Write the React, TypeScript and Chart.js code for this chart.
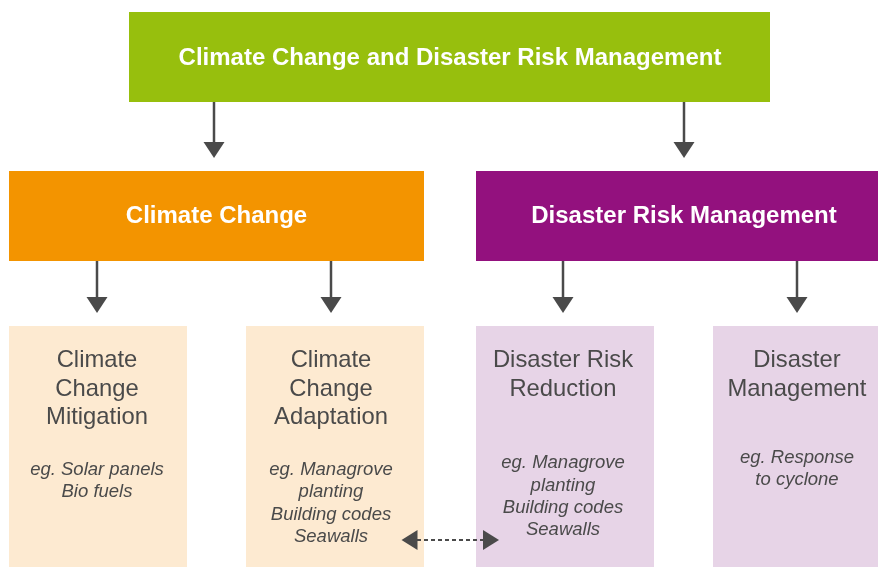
import { useEffect, useRef } from "react";
import { Chart, registerables } from "chart.js";

Chart.register(...registerables);

// ---- Diagram content ----
const topTitle = "Climate Change and Disaster Risk Management";
const groupTitles = ["Climate Change", "Disaster Risk Management"];
const leafTitles = [
  ["Climate", "Change", "Mitigation"],
  ["Climate", "Change", "Adaptation"],
  ["Disaster Risk", "Reduction"],
  ["Disaster", "Management"],
];
const leafExamples = [
  ["eg. Solar panels", "Bio fuels"],
  ["eg. Managrove", "planting", "Building codes", "Seawalls"],
  ["eg. Managrove", "planting", "Building codes", "Seawalls"],
  ["eg. Response", "to cyclone"],
];
const leafParent = [0, 0, 1, 1];

// ---- Styling ----
const FONT = '"Liberation Sans", Arial, Helvetica, sans-serif';
const GREEN = "#97BF0D";
const ORANGE = "#F39400";
const PURPLE = "#93117E";
const LIGHT = ["#FDEAD1", "#E7D4E7"];
const TEXT_GRAY = "#4A4A4A";
const ARROW = "#4A4A4A";

// ---- Layout (in scale units, x: 0..878, y: 0..567 top-down) ----
const topBox = { x0: 129, x1: 770, y0: 12, y1: 102, tx: 450, by: 64.5 };
const groupBoxes = [
  { x0: 9, x1: 424, y0: 171, y1: 261, tx: 216.5, by: 223 },
  { x0: 476, x1: 878, y0: 171, y1: 261, tx: 684, by: 223 },
];
const topArrowX = [214, 684];
const leafBoxes = [
  { x0: 9, x1: 187, tx: 97, ey: 475 },
  { x0: 246, x1: 424, tx: 331, ey: 475 },
  { x0: 476, x1: 654, tx: 563, ey: 468.3 },
  { x0: 713, x1: 878, tx: 797, ey: 462.7 },
];
const leafY0 = 326;
const leafY1 = 567;

const diagramPlugin = {
  id: "diagram",
  afterDraw(chart: any) {
    const ctx = chart.ctx as CanvasRenderingContext2D;
    const xs = chart.scales.x;
    const ys = chart.scales.y;
    const X = (v: number) => xs.getPixelForValue(v);
    const Y = (v: number) => ys.getPixelForValue(v);
    const rect = (x0: number, y0: number, x1: number, y1: number, c: string) => {
      ctx.fillStyle = c;
      ctx.fillRect(X(x0), Y(y0), X(x1) - X(x0), Y(y1) - Y(y0));
    };
    const text = (s: string, x: number, y: number, font: string, c: string) => {
      ctx.font = font;
      ctx.fillStyle = c;
      ctx.textAlign = "center";
      ctx.textBaseline = "alphabetic";
      ctx.fillText(s, X(x), Y(y));
    };
    const head = (tipX: number, tipY: number, dir: "down" | "left" | "right") => {
      ctx.fillStyle = ARROW;
      ctx.beginPath();
      const tx = X(tipX);
      const ty = Y(tipY);
      if (dir === "down") {
        ctx.moveTo(tx, ty);
        ctx.lineTo(tx - 10.5, ty - 16);
        ctx.lineTo(tx + 10.5, ty - 16);
      } else if (dir === "left") {
        ctx.moveTo(tx, ty);
        ctx.lineTo(tx + 16, ty - 10);
        ctx.lineTo(tx + 16, ty + 10);
      } else {
        ctx.moveTo(tx, ty);
        ctx.lineTo(tx - 16, ty - 10);
        ctx.lineTo(tx - 16, ty + 10);
      }
      ctx.closePath();
      ctx.fill();
    };
    const downArrow = (x: number, y0: number, y1: number) => {
      ctx.strokeStyle = ARROW;
      ctx.lineWidth = 2.5;
      ctx.setLineDash([]);
      ctx.beginPath();
      ctx.moveTo(X(x), Y(y0));
      ctx.lineTo(X(x), Y(y1) - 14);
      ctx.stroke();
      head(x, y1, "down");
    };

    ctx.save();
    // Top box
    rect(topBox.x0, topBox.y0, topBox.x1, topBox.y1, GREEN);
    text(topTitle, topBox.tx, topBox.by, `bold 24px ${FONT}`, "#FFFFFF");

    // Arrows from top
    topArrowX.forEach((x) => downArrow(x, topBox.y1, 158));

    // Group boxes
    groupBoxes.forEach((b, i) => {
      rect(b.x0, b.y0, b.x1, b.y1, i === 0 ? ORANGE : PURPLE);
      text(groupTitles[i], b.tx, b.by, `bold 24px ${FONT}`, "#FFFFFF");
    });

    // Leaf boxes
    leafBoxes.forEach((b, i) => {
      downArrow(b.tx, 261, 313);
      rect(b.x0, leafY0, b.x1, leafY1, LIGHT[leafParent[i]]);
      leafTitles[i].forEach((s, k) => {
        text(s, b.tx, 366.7 + k * 28.8, `23.8px ${FONT}`, TEXT_GRAY);
      });
      leafExamples[i].forEach((s, k) => {
        text(s, b.tx, b.ey + k * 22.3, `italic 18.5px ${FONT}`, TEXT_GRAY);
      });
    });

    // Dashed double arrow between adaptation and reduction
    ctx.strokeStyle = ARROW;
    ctx.lineWidth = 2;
    ctx.setLineDash([4, 3]);
    ctx.beginPath();
    ctx.moveTo(X(417), Y(540));
    ctx.lineTo(X(484), Y(540));
    ctx.stroke();
    ctx.setLineDash([]);
    head(401.5, 540, "left");
    head(499, 540, "right");
    ctx.restore();
  },
};

export default function App() {
  const ref = useRef<HTMLCanvasElement | null>(null);
  useEffect(() => {
    document.body.style.margin = "0";
    const canvas = ref.current;
    if (!canvas) return;
    const chart = new Chart(canvas, {
      type: "scatter",
      data: { datasets: [] },
      options: {
        animation: false,
        responsive: false,
        devicePixelRatio: 1,
        layout: { padding: 0 },
        plugins: {
          legend: { display: false },
          tooltip: { enabled: false },
          title: { display: false },
        },
        scales: {
          x: { type: "linear", min: 0, max: 878, display: false },
          y: { type: "linear", min: 0, max: 567, reverse: true, display: false },
        },
      },
      plugins: [diagramPlugin],
    });
    return () => chart.destroy();
  }, []);
  return (
    <canvas
      ref={ref}
      width={878}
      height={567}
      style={{ display: "block", width: 878, height: 567, background: "#FFFFFF" }}
    />
  );
}
